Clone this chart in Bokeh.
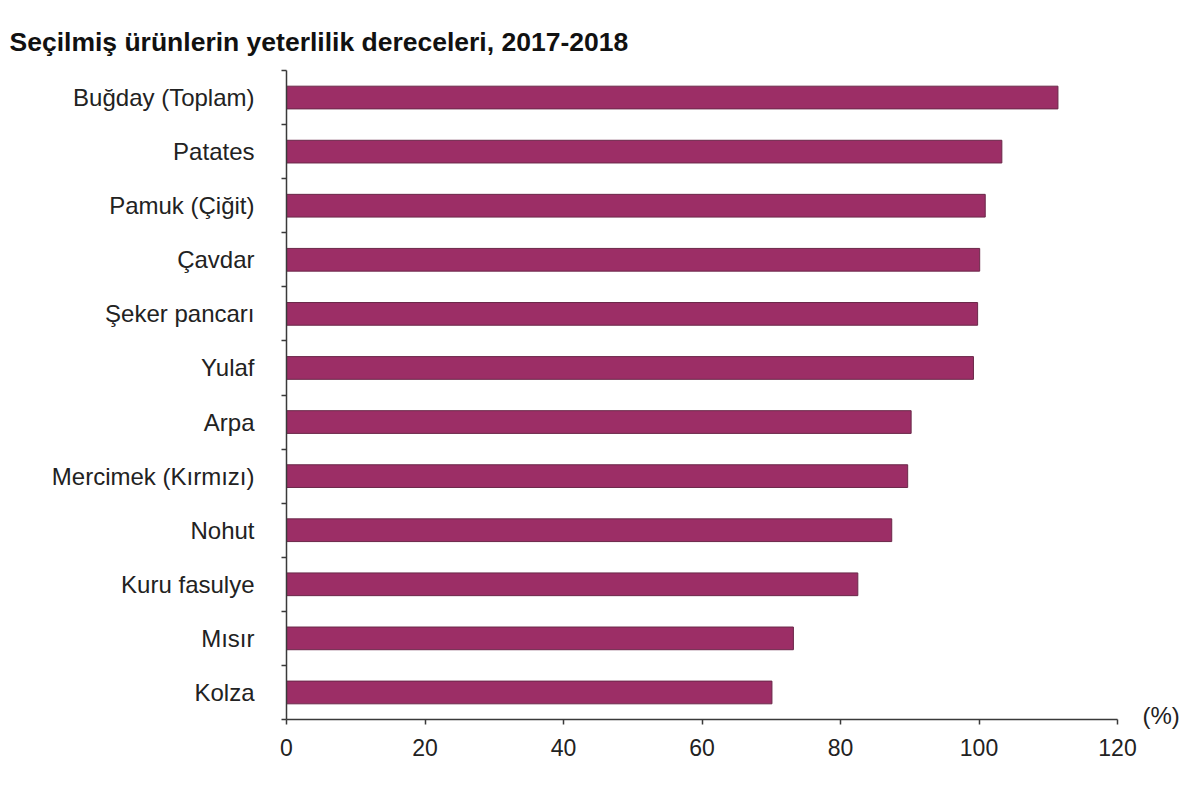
from bokeh.plotting import figure
from bokeh.models import (Range1d, FixedTicker, ColumnDataSource, Title,
                          LinearAxis, CustomJSTickFormatter)
from bokeh.embed import file_html
from bokeh.resources import INLINE

# Self-sufficiency ratios (%), 2017-2018, top to bottom
products = [
    "Buğday (Toplam)", "Patates", "Pamuk (Çiğit)", "Çavdar", "Şeker pancarı",
    "Yulaf", "Arpa", "Mercimek (Kırmızı)", "Nohut", "Kuru fasulye", "Mısır", "Kolza",
]
ratios = [111.4, 103.3, 100.9, 100.1, 99.8, 99.2, 90.2, 89.7, 87.4, 82.5, 73.2, 70.1]
x_ticks = [0, 20, 40, 60, 80, 100, 120]

n = len(products)
ypos = [n - 1 - i for i in range(n)]
src = ColumnDataSource(dict(y=ypos, v=ratios, name=products))

FONT = "Liberation Sans"
TEXT = "#222222"
AXIS = "#3a3a3a"

W, H = 1200, 804
LEFT, RIGHT, TOP, BOTTOM = 286, 83, 70, 85

p = figure(width=W, height=H, output_backend="svg", toolbar_location=None,
           x_range=Range1d(0, 120), y_range=Range1d(-0.5, n - 0.5),
           min_border_left=LEFT, min_border_right=RIGHT,
           min_border_top=TOP, min_border_bottom=BOTTOM)
p.outline_line_color = None
p.grid.visible = False
p.background_fill_color = "white"
p.border_fill_color = "white"

p.hbar(y="y", right="v", left=0, height=0.42, source=src,
       fill_color="#9c2e66", line_color="#6a2849", line_width=1)

# x axis
xa = p.xaxis[0]
xa.ticker = FixedTicker(ticks=x_ticks, minor_ticks=[])
xa.axis_line_color = AXIS
xa.axis_line_width = 1.5
xa.major_tick_line_color = AXIS
xa.major_tick_line_width = 1.5
xa.major_tick_out = 5
xa.major_tick_in = 0
xa.minor_tick_line_color = None
xa.major_label_standoff = 14
xa.major_label_text_font = FONT
xa.major_label_text_font_size = "23px"
xa.major_label_text_color = TEXT

# y axis: names at band centres, short ticks between the bands
ya = p.yaxis[0]
ya.ticker = FixedTicker(ticks=ypos, minor_ticks=[k - 0.5 for k in range(n + 1)])
ya.major_label_overrides = {y: name for y, name in zip(ypos, products)}
ya.axis_line_color = AXIS
ya.axis_line_width = 1.5
ya.major_tick_line_color = None
ya.major_tick_out = 0
ya.major_tick_in = 0
ya.minor_tick_line_color = AXIS
ya.minor_tick_line_width = 1.5
ya.minor_tick_out = 5
ya.minor_tick_in = 0
ya.major_label_standoff = 27
ya.major_label_text_font = FONT
ya.major_label_text_font_size = "24px"
ya.major_label_text_color = TEXT

# unit marker just right of the x axis end, carried by a bare right-hand axis
unit_axis = LinearAxis(ticker=FixedTicker(ticks=[-0.43], minor_ticks=[]),
                       formatter=CustomJSTickFormatter(code="return '(%)'"),
                       axis_line_color=None, major_tick_line_color=None,
                       minor_tick_line_color=None,
                       major_tick_in=0, major_tick_out=0,
                       major_label_standoff=25,
                       major_label_text_font=FONT,
                       major_label_text_font_size="24px",
                       major_label_text_color=TEXT)
p.add_layout(unit_axis, "right")

title = Title(text="Seçilmiş ürünlerin yeterlilik dereceleri, 2017-2018",
              align="left", offset=-(LEFT - 9), standoff=28,
              text_font=FONT, text_font_style="bold", text_font_size="26.5px",
              text_color="#111111")
p.add_layout(title, "above")

open("out.html", "w").write(file_html(p, INLINE))
